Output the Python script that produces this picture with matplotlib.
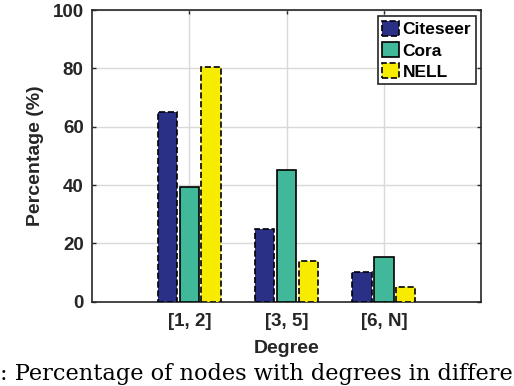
import matplotlib.pyplot as plt
import numpy as np

categories = ['[1, 2]', '[3, 5]', '[6, N]']
citeseer = [65, 25, 10.3]
cora = [39.5, 45.2, 15.4]
nell = [80.5, 14.1, 5.2]

plt.rcParams['font.family'] = ['Liberation Sans', 'DejaVu Sans']

fig = plt.figure(figsize=(5.14, 3.86), dpi=100)
ax = fig.add_axes([0.179, 0.218, 0.757, 0.756])

x = np.arange(1, len(categories) + 1)
w = 0.2
off = 0.225

ax.bar(x - off, citeseer, w, color='#2B3087', edgecolor='black', linestyle='--', linewidth=1.2, label='Citeseer', zorder=3)
ax.bar(x, cora, w, color='#40B899', edgecolor='black', linestyle='-', linewidth=1.2, label='Cora', zorder=3)
ax.bar(x + off, nell, w, color='#F7EC00', edgecolor='black', linestyle='--', linewidth=1.2, label='NELL', zorder=3)

ax.set_xlim(0, 4)
ax.set_ylim(0, 100)
ax.set_xticks(x)
ax.set_xticklabels(categories)
ax.set_yticks([0, 20, 40, 60, 80, 100])
ax.grid(True, color='#d9d9d9', linewidth=1.0, zorder=0)
ax.tick_params(direction='in', top=True, right=True, length=3, color='#262626',
               labelsize=13.5, labelcolor='#262626', width=1, pad=6)
ax.tick_params(axis='x', pad=8)
for lbl in ax.get_xticklabels() + ax.get_yticklabels():
    lbl.set_fontweight('bold')
for sp in ax.spines.values():
    sp.set_color('#262626')
    sp.set_linewidth(1.2)

ax.set_xlabel('Degree', fontsize=14, fontweight='bold', color='#262626', labelpad=7)
ax.set_ylabel('Percentage (%)', fontsize=14, fontweight='bold', color='#262626', labelpad=6)

leg = ax.legend(loc='upper right', bbox_to_anchor=(0.995, 0.99), fancybox=False, framealpha=1,
                edgecolor='#262626', handlelength=1.0, handleheight=1.0, handletextpad=0.2,
                borderpad=0.25, labelspacing=0.25, borderaxespad=0.2,
                prop={'weight': 'bold', 'size': 12.5})
leg.get_frame().set_linewidth(1.2)

fig.text(0.0, 0.003, ': Percentage of nodes with degrees in differe',
         family='DejaVu Serif', fontsize=16.2, ha='left', va='bottom')

fig.savefig('out.png', dpi=100)
